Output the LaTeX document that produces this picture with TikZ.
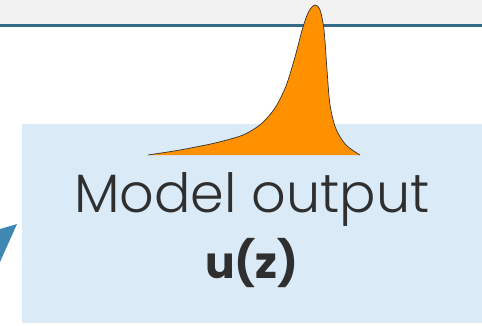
\documentclass[tikz,border=0pt]{standalone}
\usepackage{fontspec}
\setmainfont{Poppins}[UprightFont=* Light, BoldFont=* Bold]
\usepackage{tikz}
\usetikzlibrary{positioning}

\definecolor{bandgray}{HTML}{F2F2F2}
\definecolor{rulecolor}{HTML}{346A8A}
\definecolor{panelblue}{HTML}{DAEAF6}
\definecolor{peakorange}{HTML}{FF9100}
\definecolor{arrowblue}{HTML}{3F88B4}
\definecolor{textgray}{HTML}{2F2F2F}

\begin{document}
\begin{tikzpicture}[
    x=1pt, y=-1pt,
    panel/.style={fill=panelblue, draw=none},
    label/.style={text=textgray, anchor=base, inner sep=0pt},
]
\useasboundingbox (0,0) rectangle (482,325);

% header band
\fill[bandgray] (0,0) rectangle (482,24);
\fill[rulecolor] (0,24) rectangle (482,27);

% output panel
\path[panel] (22,124) rectangle (482,323);

% arrow tip coming in from the left
\fill[arrowblue] (0,229) -- (17,224) -- (0,262) -- cycle;

% output distribution
\def\peakcurve{(148,155) (180,150) (215,143) (243,135) (261,124) (275,108)
    (286,86) (295,57) (303,27) (309,11) (315,5) (320,10) (324,30)
    (327,70) (330,105) (336,129) (346,145) (360,155)}
\fill[peakorange] plot[smooth] coordinates {\peakcurve} -- cycle;
\draw[black!80, line width=0.7pt] plot[smooth] coordinates {\peakcurve};

\node[label, font=\fontsize{54}{64}\selectfont] (title) at (252,212) {Model output};
\node[label, font=\fontsize{44}{54}\selectfont\bfseries] (formula) at (252,278) {u(z)};

\end{tikzpicture}
\end{document}
